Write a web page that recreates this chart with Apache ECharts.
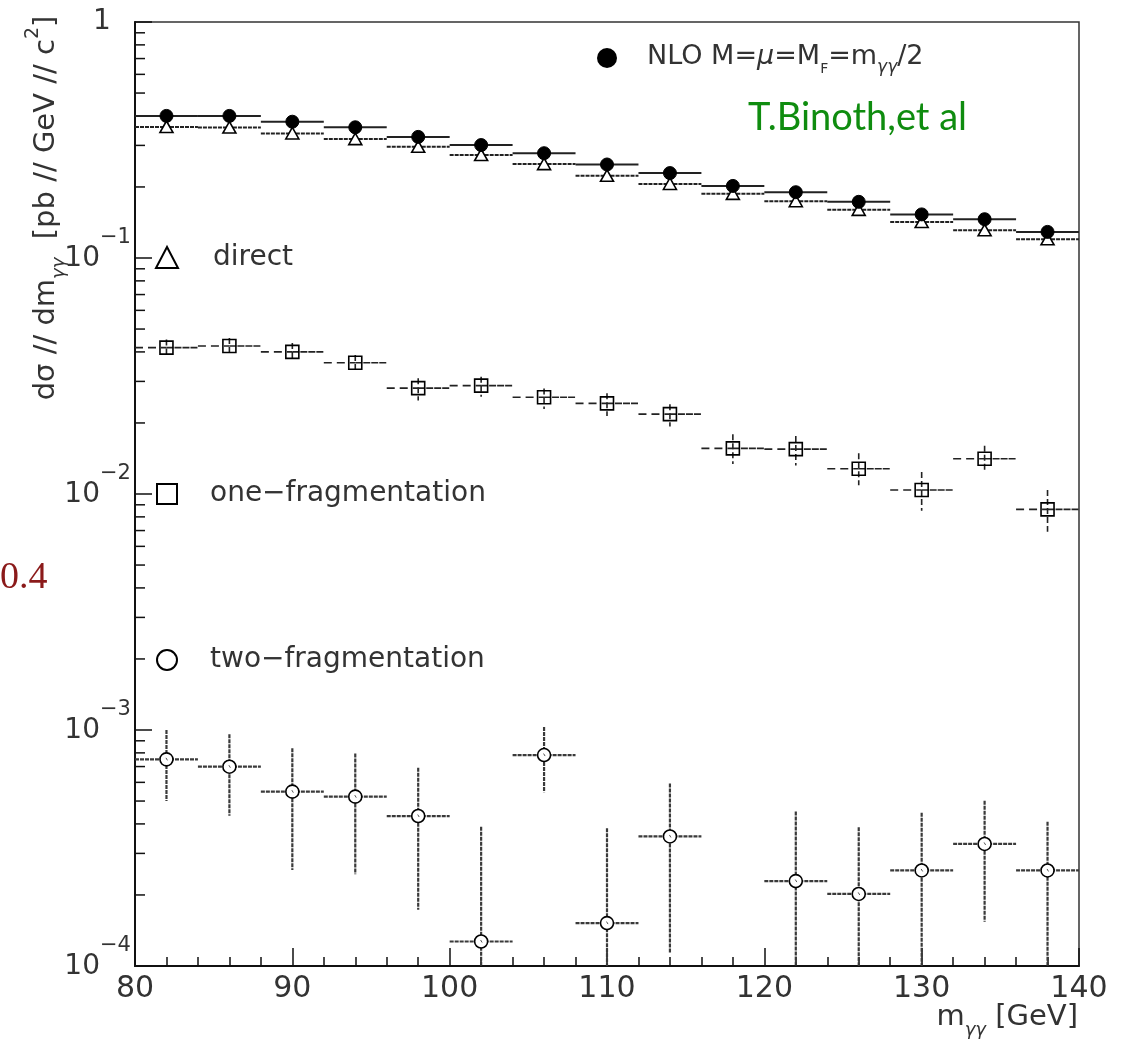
<!DOCTYPE html>
<html>
<head>
<meta charset="utf-8">
<script src="https://cdn.jsdelivr.net/npm/echarts@6/dist/echarts.min.js"></script>
<style>
  html, body { margin: 0; padding: 0; background: #fff; }
  #chart { width: 1121px; height: 1042px; }
</style>
</head>
<body>
<div id="chart"></div>
<script>
// Diphoton invariant-mass spectrum, 4 GeV bins from 80 to 140 GeV
const binCenters = [82, 86, 90, 94, 98, 102, 106, 110, 114, 118, 122, 126, 130, 134, 138];
const binHalfWidth = 2;

// NLO total, M = mu = M_F = m_gg / 2  [pb/GeV/c^2]
const nloValues = [0.400, 0.400, 0.378, 0.358, 0.326, 0.301, 0.278, 0.249, 0.229, 0.202, 0.190, 0.173, 0.153, 0.146, 0.129];
// direct contribution
const directValues = [0.359, 0.357, 0.337, 0.319, 0.296, 0.273, 0.250, 0.223, 0.206, 0.187, 0.174, 0.160, 0.142, 0.131, 0.120];
// one-fragmentation contribution with its error band
const oneFragValues = [0.0417, 0.0424, 0.0400, 0.0360, 0.0281, 0.0288, 0.0257, 0.0242, 0.0218, 0.0156, 0.0155, 0.0128, 0.0104, 0.0141, 0.00861];
const oneFragLow    = [0.0385, 0.0392, 0.0366, 0.0328, 0.0249, 0.0258, 0.0229, 0.0214, 0.0193, 0.0134, 0.0132, 0.0109, 0.00850, 0.0123, 0.00692];
const oneFragHigh   = [0.0451, 0.0458, 0.0436, 0.0388, 0.0309, 0.0314, 0.0280, 0.0267, 0.0240, 0.0179, 0.0176, 0.0149, 0.0124, 0.0160, 0.0104];
// two-fragmentation contribution (no entry in the 116-120 bin); null low = error reaches below the axis
const twoFragBins   = [82, 86, 90, 94, 98, 102, 106, 110, 114, 122, 126, 130, 134, 138];
const twoFragValues = [7.51e-4, 6.99e-4, 5.48e-4, 5.22e-4, 4.32e-4, 1.27e-4, 7.83e-4, 1.52e-4, 3.54e-4, 2.29e-4, 2.02e-4, 2.54e-4, 3.29e-4, 2.54e-4];
const twoFragLow    = [5.0e-4, 4.33e-4, 2.55e-4, 2.45e-4, 1.73e-4, null, 5.45e-4, null, 1.14e-4, null, null, null, 1.54e-4, null];
const twoFragHigh   = [1.0e-3, 9.6e-4, 8.37e-4, 7.96e-4, 6.92e-4, 3.89e-4, 1.03e-3, 3.83e-4, 5.94e-4, 4.51e-4, 3.87e-4, 4.46e-4, 5.02e-4, 4.09e-4];

// axis ticks
const xTicks = [80, 90, 100, 110, 120, 130, 140];
const yTicks = [1, 1e-1, 1e-2, 1e-3, 1e-4];
const yTickBase = ['1', '10', '10', '10', '10'];
const yTickExponents = ['', '\u22121', '\u22122', '\u22123', '\u22124'];

const FONT = 'DejaVu Sans';
const INK = '#111';
const TEXT = '#333';

const chart = echarts.init(document.getElementById('chart'), null, { renderer: 'canvas' });

function rows(xs, vals, lows, highs) {
  return xs.map((x, i) => [x, vals[i], lows ? lows[i] : null, highs ? highs[i] : null]);
}

function markerShape(kind, cx, cy) {
  if (kind === 'disc') {
    return { type: 'circle', shape: { cx, cy, r: 6.5 }, style: { fill: '#000', stroke: '#000', lineWidth: 1 } };
  }
  if (kind === 'triangle') {
    return { type: 'polygon', shape: { points: [[cx, cy - 6], [cx - 6.5, cy + 5.5], [cx + 6.5, cy + 5.5]] },
             style: { fill: '#fff', stroke: '#000', lineWidth: 1.6 } };
  }
  if (kind === 'square') {
    return { type: 'rect', shape: { x: cx - 6.5, y: cy - 6.5, width: 13, height: 13 },
             style: { fill: 'transparent', stroke: '#000', lineWidth: 1.6 } };
  }
  return { type: 'group', children: [
    { type: 'circle', shape: { cx, cy, r: 6.5 }, style: { fill: '#fff', stroke: '#000', lineWidth: 1.6 } },
    { type: 'line', shape: { x1: cx - 0.5, y1: cy - 1.5, x2: cx + 1, y2: cy + 1 }, style: { stroke: '#555', lineWidth: 1 } }
  ] };
}

// Each bin: horizontal bar across the bin, optional vertical error bar, marker at the bin centre
function binRenderer(opts) {
  return function (params, api) {
    const cs = params.coordSys;
    const x = api.value(0), v = api.value(1), lo = api.value(2), hi = api.value(3);
    const c = api.coord([x, v]);
    const l = api.coord([x - binHalfWidth, v]);
    const r = api.coord([x + binHalfWidth, v]);
    const st = (dash) => ({ stroke: opts.color, lineWidth: opts.width, lineDash: dash || null, fill: null });
    const children = [];
    if (opts.leftDash) {
      children.push({ type: 'line', shape: { x1: l[0], y1: c[1], x2: c[0], y2: c[1] }, style: st(opts.leftDash) });
      children.push({ type: 'line', shape: { x1: c[0], y1: c[1], x2: r[0], y2: c[1] }, style: st(opts.rightDash) });
    } else {
      children.push({ type: 'line', shape: { x1: l[0], y1: c[1], x2: r[0], y2: c[1] }, style: st(opts.hDash) });
    }
    if (!isNaN(hi)) {
      const bottom = cs.y + cs.height;
      const yTop = Math.max(cs.y, api.coord([x, hi])[1]);
      const yBot = isNaN(lo) ? bottom : Math.min(bottom, api.coord([x, lo])[1]);
      children.push({ type: 'line', shape: { x1: c[0], y1: yTop, x2: c[0], y2: yBot }, style: st(opts.vDash) });
    }
    children.push(markerShape(opts.marker, c[0], c[1]));
    return { type: 'group', children };
  };
}

// minor ticks of the log axis at 2..9 x 10^k
const yMinor = [];
for (let i = 1; i < yTicks.length; i++) {
  for (let m = 2; m <= 9; m++) yMinor.push(m * yTicks[i]);
}

const option = {
  animation: false,
  backgroundColor: '#fff',
  grid: { left: 135, top: 22, right: 42, bottom: 76, show: true, borderColor: '#333', borderWidth: 1.5, backgroundColor: 'transparent' },
  xAxis: {
    type: 'value', min: xTicks[0], max: xTicks[xTicks.length - 1], interval: 10,
    axisLine: { show: true, onZero: false, lineStyle: { color: INK, width: 2 } },
    axisTick: { show: true, inside: true, length: 18, lineStyle: { color: INK, width: 1.5 } },
    minorTick: { show: true, splitNumber: 5, length: 9, lineStyle: { color: INK, width: 1.5 } },
    axisLabel: { fontSize: 30, fontFamily: FONT, color: TEXT, margin: 8, showMinLabel: true, showMaxLabel: true },
    splitLine: { show: false }
  },
  yAxis: {
    type: 'log', logBase: 10, min: yTicks[yTicks.length - 1], max: yTicks[0],
    axisLine: { show: true, onZero: false, lineStyle: { color: INK, width: 2 } },
    axisTick: { show: true, inside: true, length: 17, lineStyle: { color: INK, width: 1.5 } },
    minorTick: { show: false },
    axisLabel: { show: false },
    splitLine: { show: false }
  },
  series: [
    {
      type: 'custom', name: 'minor', silent: true,
      data: yMinor.map(v => [xTicks[0], v]),
      encode: { x: 0, y: 1 },
      renderItem: (params, api) => {
        const p = api.coord([api.value(0), api.value(1)]);
        return { type: 'line', shape: { x1: p[0], y1: p[1], x2: p[0] + 10, y2: p[1] }, style: { stroke: INK, lineWidth: 1.5 } };
      }
    },
    {
      type: 'custom', name: 'two-fragmentation',
      data: rows(twoFragBins, twoFragValues, twoFragLow, twoFragHigh),
      encode: { x: 0, y: 1 },
      renderItem: binRenderer({ marker: 'ring', color: '#3a3a3a', width: 2.2, hDash: [4, 1], vDash: [4, 1] })
    },
    {
      type: 'custom', name: 'one-fragmentation',
      data: rows(binCenters, oneFragValues, oneFragLow, oneFragHigh),
      encode: { x: 0, y: 1 },
      renderItem: binRenderer({ marker: 'square', color: '#222', width: 1.6, leftDash: [8, 5], rightDash: [7, 1], vDash: [6, 3] })
    },
    {
      type: 'custom', name: 'direct',
      data: rows(binCenters, directValues),
      encode: { x: 0, y: 1 },
      renderItem: binRenderer({ marker: 'triangle', color: '#222', width: 2, hDash: [4, 1] })
    },
    {
      type: 'custom', name: 'NLO',
      data: rows(binCenters, nloValues),
      encode: { x: 0, y: 1 },
      renderItem: binRenderer({ marker: 'disc', color: '#222', width: 2 })
    }
  ]
};

chart.setOption(option);

// text and legend drawn on top of the plot
const graphics = [];

yTicks.forEach((v, i) => {
  const p = chart.convertToPixel({ xAxisIndex: 0, yAxisIndex: 0 }, [xTicks[0], v]);
  if (yTickExponents[i]) {
    graphics.push({ type: 'text', x: 100, y: p[1] + 1,
      style: { text: yTickBase[i], fontSize: 28, fontFamily: FONT, fill: TEXT, align: 'right', verticalAlign: 'middle', textAlign: 'right', textVerticalAlign: 'middle' } });
    graphics.push({ type: 'text', x: 100, y: p[1] - 20,
      style: { text: yTickExponents[i], fontSize: 21, fontFamily: FONT, fill: TEXT, align: 'left', verticalAlign: 'middle', textAlign: 'left', textVerticalAlign: 'middle' } });
  } else {
    graphics.push({ type: 'text', x: 102, y: p[1],
      style: { text: yTickBase[i], fontSize: 28, fontFamily: FONT, fill: TEXT, align: 'center', verticalAlign: 'middle', textAlign: 'center', textVerticalAlign: 'middle' } });
  }
});

const base = (size, lh) => ({ fontSize: size, fontFamily: FONT, fill: TEXT, lineHeight: lh });

// vertical axis title
graphics.push({
  type: 'text', x: 46, y: 208, rotation: Math.PI / 2,
  style: {
    text: '{t|d\u03c3 // dm}{sub|\u03b3\u03b3}{t|  [pb // GeV // c}{sup|2}{t|]}',
    align: 'center', verticalAlign: 'middle', textAlign: 'center', textVerticalAlign: 'middle',
    rich: {
      t: base(29, 44),
      sub: Object.assign(base(18, 26), { verticalAlign: 'bottom', fontStyle: 'italic' }),
      sup: Object.assign(base(19, 18), { verticalAlign: 'top' })
    }
  }
});

// horizontal axis title
graphics.push({
  type: 'text', x: 1078, y: 1017,
  style: {
    text: '{t|m}{sub|\u03b3\u03b3}{t| [GeV]}',
    align: 'right', verticalAlign: 'middle', textAlign: 'right', textVerticalAlign: 'middle',
    rich: {
      t: base(29, 44),
      sub: Object.assign(base(18, 26), { verticalAlign: 'bottom', fontStyle: 'italic' })
    }
  }
});

// NLO legend entry
graphics.push({ type: 'circle', shape: { cx: 607, cy: 58, r: 10 }, style: { fill: '#000' } });
graphics.push({
  type: 'text', x: 647, y: 57,
  style: {
    text: '{t|NLO M=}{i|\u03bc}{t|=M}{f|F}{t|=m}{g|\u03b3\u03b3}{t|/2}',
    align: 'left', verticalAlign: 'middle', textAlign: 'left', textVerticalAlign: 'middle',
    rich: {
      t: base(27, 38),
      i: Object.assign(base(27, 38), { fontStyle: 'italic' }),
      f: Object.assign(base(14, 22), { verticalAlign: 'bottom' }),
      g: Object.assign(base(17, 24), { verticalAlign: 'bottom', fontStyle: 'italic' })
    }
  }
});
graphics.push({ type: 'text', x: 748, y: 118,
  style: { text: 'T.Binoth,et al', fontSize: 38, fontFamily: 'Lato', fill: '#0f8c0f', align: 'left', verticalAlign: 'middle', textAlign: 'left', textVerticalAlign: 'middle' } });

// component legend on the left
const legendStyle = { fill: 'transparent', stroke: '#000', lineWidth: 2 };
graphics.push({ type: 'polygon', shape: { points: [[167, 247], [156, 268], [178, 268]] }, style: legendStyle });
graphics.push({ type: 'rect', shape: { x: 157, y: 484, width: 20, height: 20 }, style: legendStyle });
graphics.push({ type: 'circle', shape: { cx: 167, cy: 660, r: 10 }, style: legendStyle });
[['direct', 213, 258], ['one\u2212fragmentation', 210, 494], ['two\u2212fragmentation', 210, 660]].forEach(([t, x, y]) => {
  graphics.push({ type: 'text', x, y,
    style: { text: t, fontSize: 28, fontFamily: FONT, fill: TEXT, align: 'left', verticalAlign: 'middle', textAlign: 'left', textVerticalAlign: 'middle' } });
});

// stray label at the left margin
graphics.push({ type: 'text', x: 0, y: 578,
  style: { text: '0.4', fontSize: 38, fontFamily: 'Liberation Serif', fill: '#8b1a1a', align: 'left', verticalAlign: 'middle', textAlign: 'left', textVerticalAlign: 'middle' } });

chart.setOption({ graphic: graphics });
</script>
</body>
</html>
